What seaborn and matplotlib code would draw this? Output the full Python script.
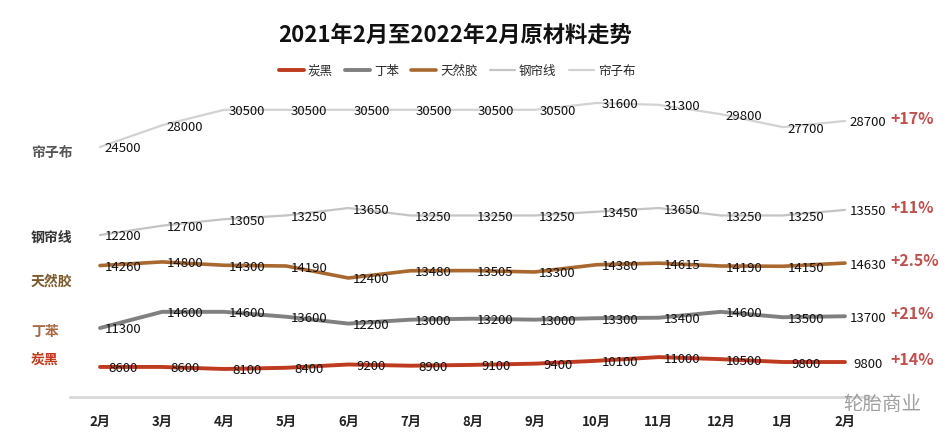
import matplotlib
matplotlib.use("Agg")
import matplotlib.pyplot as plt
import pandas as pd
import seaborn as sns

months = ["2月", "3月", "4月", "5月", "6月", "7月", "8月", "9月", "10月", "11月", "12月", "1月", "2月"]

tan_hei = [8600, 8600, 8100, 8400, 9200, 8900, 9100, 9400, 10100, 11000, 10500, 9800, 9800]
ding_ben = [11300, 14600, 14600, 13600, 12200, 13000, 13200, 13000, 13300, 13400, 14600, 13500, 13700]
tian_ran_jiao = [14260, 14800, 14300, 14190, 12400, 13480, 13505, 13300, 14380, 14615, 14190, 14150, 14630]
gang_lian_xian = [12200, 12700, 13050, 13250, 13650, 13250, 13250, 13250, 13450, 13650, 13250, 13250, 13550]
lian_zi_bu = [24500, 28000, 30500, 30500, 30500, 30500, 30500, 30500, 31600, 31300, 29800, 27700, 28700]

series_names = ["炭黑", "丁苯", "天然胶", "钢帘线", "帘子布"]
changes = ["+14%", "+21%", "+2.5%", "+11%", "+17%"]

# style: (line colour, line width, label colour, band y in px, ref value, px per unit, left label y)
styles = {
    "炭黑": ("#bf3b20", 2.8, "#c0391b", 369, 8100, 0.0041, 360),
    "丁苯": ("#808080", 2.8, "#a86a45", 328, 11300, 0.0049, 332),
    "天然胶": ("#a8682e", 2.6, "#7a5a2a", 278, 12400, 0.0067, 282),
    "钢帘线": ("#c4c4c4", 1.6, "#333333", 235, 12200, 0.0186, 238),
    "帘子布": ("#d2d2d2", 1.6, "#555555", 147, 24500, 0.0062, 153),
}
values = {"炭黑": tan_hei, "丁苯": ding_ben, "天然胶": tian_ran_jiao,
          "钢帘线": gang_lian_xian, "帘子布": lian_zi_bu}

rows = []
for name in series_names:
    _, _, _, base, ref, k, _ = styles[name]
    for i, v in enumerate(values[name]):
        rows.append({"series": name, "idx": i, "value": v, "ypx": base - (v - ref) * k})
df = pd.DataFrame(rows)

sns.set_theme(style="white")
plt.rcParams["font.family"] = ["Noto Sans CJK SC", "DejaVu Sans"]

W, H = 947, 438
fig = plt.figure(figsize=(9.47, 4.38), dpi=100)
ax = fig.add_axes([70 / W, 1 - 397 / H, 805 / W, (397 - 90) / H])

sns.lineplot(data=df, x="idx", y="ypx", hue="series", hue_order=series_names,
             palette={n: styles[n][0] for n in series_names}, legend=False, ax=ax)
for line, name in zip(ax.get_lines(), series_names):
    line.set_linewidth(styles[name][1])

step = (845 - 100) / 12
ax.set_xlim(-30 / step, 12 + 30 / step)
ax.set_ylim(397, 90)
for s in ["top", "right", "left"]:
    ax.spines[s].set_visible(False)
ax.spines["bottom"].set_color("#d9d9d9")
ax.spines["bottom"].set_linewidth(2)
ax.set_yticks([])
ax.set_xticks(range(len(months)))
ax.set_xticklabels(months, fontsize=9.5, fontweight="bold", color="#222222")
ax.tick_params(axis="x", length=0, pad=13)
ax.set_xlabel("")
ax.set_ylabel("")

# point labels
for _, r in df.iterrows():
    ax.text(r["idx"] + 23 / step, r["ypx"] + 2, f"{int(r['value'])}", fontsize=9.5,
            ha="center", va="center", color="#111111")

# left names and right changes
for name, chg in zip(series_names, changes):
    lc = styles[name][2]
    ly = styles[name][6]
    fig.text(31 / W, 1 - ly / H, name, fontsize=10, fontweight="bold", color=lc,
             ha="left", va="center")
    last_y = df[(df.series == name) & (df.idx == 12)]["ypx"].iloc[0]
    ax.text(12 + 45 / step, last_y - 2, chg, fontsize=11.5, fontweight="bold",
            color="#c0504d", ha="left", va="center")

fig.text(455 / W, 1 - 35 / H, "2021年2月至2022年2月原材料走势", fontsize=16,
         fontweight="bold", ha="center", va="center", color="#111111")

handles = [plt.Line2D([], [], color=styles[n][0], lw=styles[n][1]) for n in series_names]
fig.legend(handles, series_names, loc="center", bbox_to_anchor=(457 / W, 1 - 71 / H),
           ncol=5, frameon=False, fontsize=9, handlelength=2.0, columnspacing=1.0,
           handletextpad=0.3)

fig.text(882 / W, 1 - 405 / H, "轮胎商业", fontsize=14, color="#888888",
         ha="center", va="center", alpha=0.8)

fig.savefig("out.png", dpi=100, facecolor="white")
